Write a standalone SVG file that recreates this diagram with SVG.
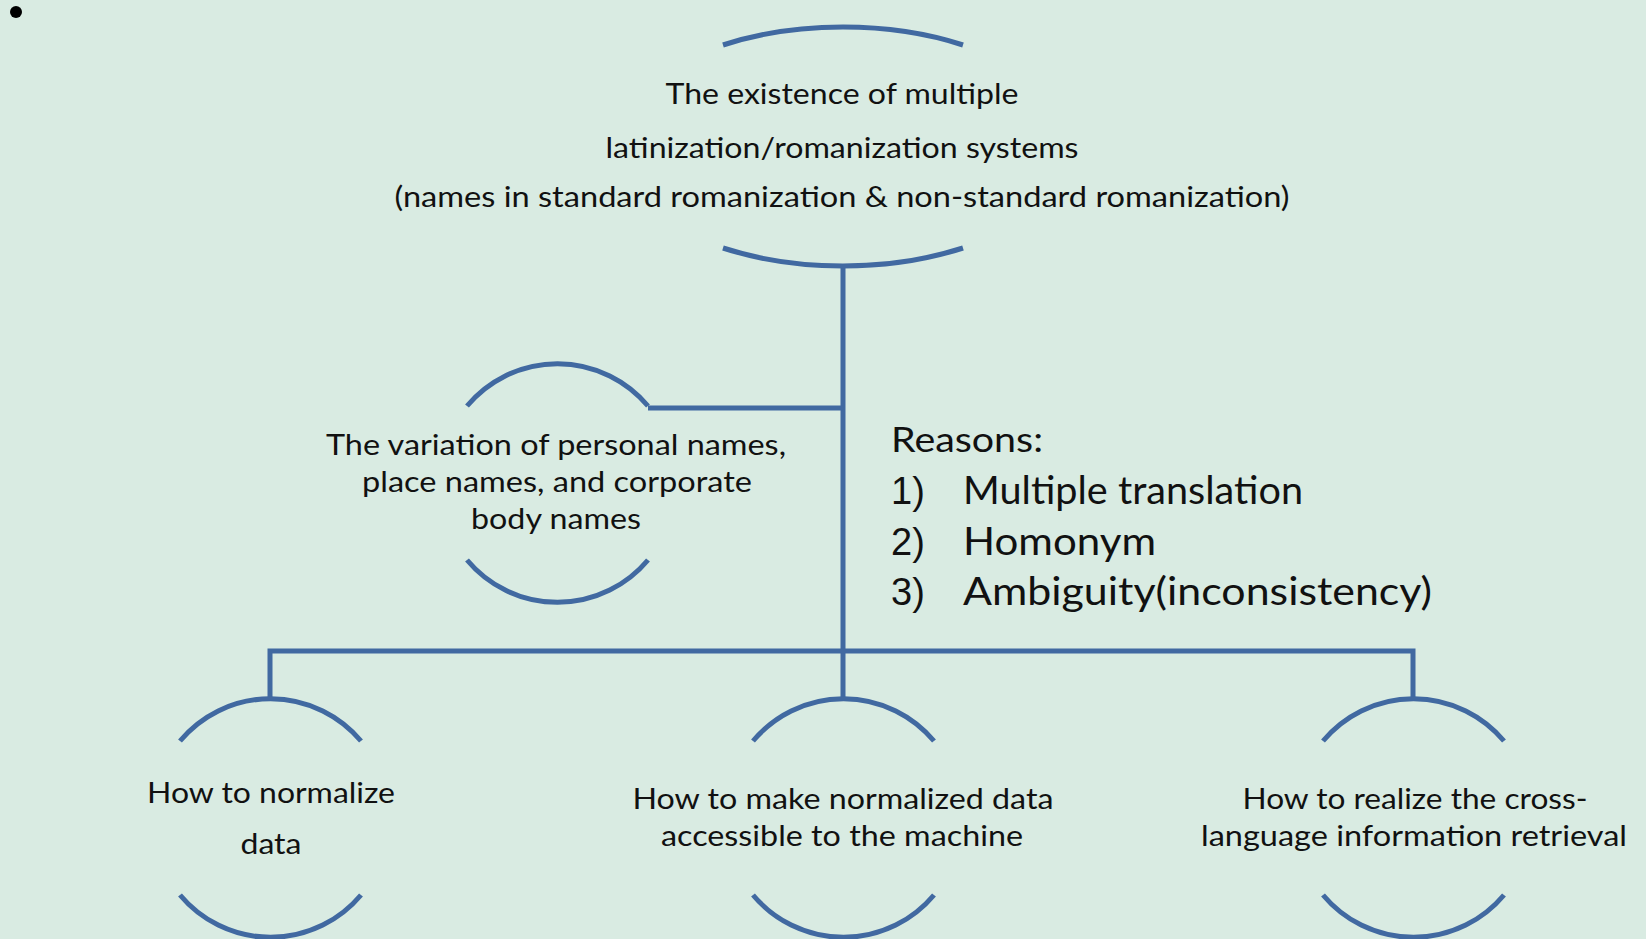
<svg xmlns="http://www.w3.org/2000/svg" width="1646" height="939" viewBox="0 0 1646 939">
<style>
.bg{fill:#D9EBE2}
.ln{fill:none;stroke:#4169A1;stroke-width:5;stroke-linecap:butt;stroke-linejoin:miter}
.t{font-family:Lato,"Open Sans","Liberation Sans",sans-serif;font-size:29px;fill:#111;text-anchor:middle}
.r{font-family:Lato,"Open Sans","Liberation Sans",sans-serif;fill:#111}
.n{font-family:"Liberation Sans",Arial,sans-serif;fill:#111;font-size:38px}
</style>
<rect class="bg" x="0" y="0" width="1646" height="939"/>
<circle cx="16" cy="12" r="6" fill="#000"/>
<g id="connectors">
<path class="ln" d="M843 267 V700"/>
<path class="ln" d="M648 408 H843"/>
<path class="ln" d="M270 700 V651 H1413 V700"/>
</g>
<g id="node-top">
<path class="ln" d="M723 45 A228 120 0 0 1 963 45"/>
<path class="ln" d="M723 248 A228 120 0 0 0 963 248"/>
<text class="t" x="842" y="104" textLength="353" lengthAdjust="spacingAndGlyphs">The existence of multiple</text>
<text class="t" x="842" y="158" textLength="473" lengthAdjust="spacingAndGlyphs">latinization/romanization systems</text>
<text class="t" x="842" y="207" textLength="895" lengthAdjust="spacingAndGlyphs">(names in standard romanization &amp; non-standard romanization)</text>
</g>
<g id="node-variation">
<path class="ln" d="M467 406 A118 118 0 0 1 648 406"/>
<path class="ln" d="M467 560 A118 118 0 0 0 648 560"/>
<text class="t" x="556" y="455" textLength="460" lengthAdjust="spacingAndGlyphs">The variation of personal names,</text>
<text class="t" x="557" y="492" textLength="390" lengthAdjust="spacingAndGlyphs">place names, and corporate</text>
<text class="t" x="556" y="529" textLength="170" lengthAdjust="spacingAndGlyphs">body names</text>
</g>
<g id="reasons">
<text class="r" x="891" y="452" font-size="34" textLength="152" lengthAdjust="spacingAndGlyphs">Reasons:</text>
<text class="n" x="891" y="504">1)</text>
<text class="n" x="891" y="555">2)</text>
<text class="n" x="891" y="605">3)</text>
<text class="r" x="963" y="504" font-size="39" textLength="340" lengthAdjust="spacingAndGlyphs">Multiple translation</text>
<text class="r" x="963" y="555" font-size="39" textLength="193" lengthAdjust="spacingAndGlyphs">Homonym</text>
<text class="r" x="963" y="605" font-size="39" textLength="469" lengthAdjust="spacingAndGlyphs">Ambiguity(inconsistency)</text>
</g>
<g id="node-normalize">
<path class="ln" d="M180 741 A118 118 0 0 1 361 741"/>
<path class="ln" d="M180 895 A118 118 0 0 0 361 895"/>
<text class="t" x="271" y="803" textLength="248" lengthAdjust="spacingAndGlyphs">How to normalize</text>
<text class="t" x="271" y="854" textLength="61" lengthAdjust="spacingAndGlyphs">data</text>
</g>
<g id="node-accessible">
<path class="ln" d="M753 741 A118 118 0 0 1 934 741"/>
<path class="ln" d="M753 895 A118 118 0 0 0 934 895"/>
<text class="t" x="843" y="809" textLength="421" lengthAdjust="spacingAndGlyphs">How to make normalized data</text>
<text class="t" x="842" y="846" textLength="362" lengthAdjust="spacingAndGlyphs">accessible to the machine</text>
</g>
<g id="node-crosslang">
<path class="ln" d="M1323 741 A118 118 0 0 1 1504 741"/>
<path class="ln" d="M1323 895 A118 118 0 0 0 1504 895"/>
<text class="t" x="1415" y="809" textLength="345" lengthAdjust="spacingAndGlyphs">How to realize the cross-</text>
<text class="t" x="1414" y="846" textLength="426" lengthAdjust="spacingAndGlyphs">language information retrieval</text>
</g>
</svg>
